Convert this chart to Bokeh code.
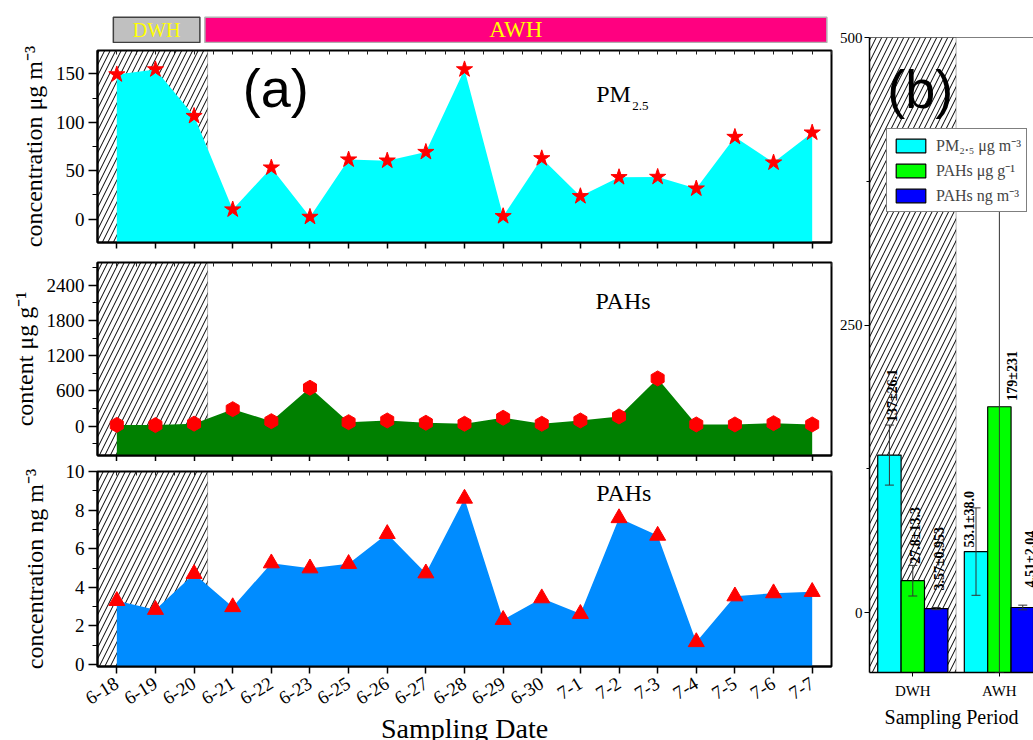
import numpy as np
from bokeh.plotting import figure
from bokeh.layouts import row, column
from bokeh.models import (Range1d, FixedTicker, BoxAnnotation, Label, LabelSet, Whisker,
                          TeeHead, ColumnDataSource, Legend, LegendItem, Span, LinearAxis)
from bokeh.core.properties import value
from bokeh.embed import file_html
from bokeh.resources import INLINE

# ---------------- data ----------------
dates = ["6-18", "6-19", "6-20", "6-21", "6-22", "6-23", "6-25", "6-26", "6-27", "6-28",
         "6-29", "6-30", "7-1", "7-2", "7-3", "7-4", "7-5", "7-6", "7-7"]
pm25 = [149.3, 154.5, 106.4, 10.0, 53.2, 2.4, 61.5, 60.4, 69.3, 154.5,
        3.1, 62.8, 23.7, 43.3, 43.6, 31.6, 84.8, 58.4, 89.3]
pahs_content = [22, 18, 43, 290, 85, 655, 68, 97, 58, 41,
                143, 41, 97, 165, 814, 29, 29, 51, 29]
pahs_conc = [3.30, 2.84, 4.70, 2.98, 5.25, 4.99, 5.22, 6.77, 4.73, 8.60,
             2.32, 3.44, 2.63, 7.59, 6.68, 1.17, 3.54, 3.70, 3.77]

periods = ["DWH", "AWH"]
pm25_mean = [137, 53.1]
pm25_sd = [26.1, 38.0]
pahs_ug_mean = [27.8, 179]
pahs_ug_sd = [13.3, 231]
pahs_ng_mean = [3.57, 4.51]
pahs_ng_sd = [0.953, 2.04]
bar_labels = [["137±26.1", "53.1±38.0"], ["27.8±13.3", "179±231"], ["3.57±0.953", "4.51±2.04"]]

SERIF = "Liberation Serif"
SANS = "Liberation Sans"
LW = 836
XR = (-0.5, len(dates) - 0.5)
DWH_EDGE = 2.35
idx = list(range(len(dates)))
half_steps = [i / 2 for i in range(-1, 2 * len(dates))]


def make_panel(h, tb, bb, yr, ticks, minor, ylabel, standoff, vals, fill, marker, msize,
               bottom=False, angle=0.0):
    p = figure(width=LW, height=h, x_range=Range1d(*XR), y_range=Range1d(*yr),
               output_backend="svg", toolbar_location=None,
               min_border_left=97, min_border_right=5, min_border_top=tb, min_border_bottom=bb)
    p.xgrid.visible = False
    p.ygrid.visible = False
    p.outline_line_color = "black"
    p.outline_line_width = 2
    p.add_layout(BoxAnnotation(left=XR[0], right=DWH_EDGE, top=yr[1], bottom=yr[0],
                               fill_alpha=0, hatch_pattern="/", hatch_color="black",
                               hatch_scale=11, hatch_weight=1, line_color="black",
                               line_width=1, level="underlay"))
    p.varea(x=idx, y1=yr[0], y2=vals, fill_color=fill)
    p.scatter(idx, vals, marker=marker, size=msize, color="red", angle=angle)

    ya = p.left[0]
    ya.ticker = FixedTicker(ticks=ticks, minor_ticks=minor)
    ya.axis_label = ylabel
    ya.axis_label_text_font = SERIF
    ya.axis_label_text_font_size = "24px"
    ya.axis_label_text_font_style = "normal"
    ya.axis_label_text_color = "black"
    ya.axis_label_standoff = standoff
    ya.major_label_text_font = SERIF
    ya.major_label_text_font_size = "19px"
    ya.major_label_text_color = "black"
    ya.major_label_standoff = 4
    ya.major_tick_out = 9
    ya.major_tick_in = 0
    ya.minor_tick_out = 5
    ya.minor_tick_in = 0
    ya.axis_line_width = 2
    ya.major_tick_line_width = 1.5

    xa = p.below[0]
    xa.axis_line_width = 2
    if bottom:
        xa.ticker = FixedTicker(ticks=idx, minor_ticks=[])
        xa.major_tick_out = 7
        xa.major_tick_in = 0
        xa.major_tick_line_width = 1.5
        xa.major_label_overrides = {i: d for i, d in enumerate(dates)}
        xa.major_label_text_font = SERIF
        xa.major_label_text_font_size = "19px"
        xa.major_label_text_color = "black"
        xa.major_label_orientation = 0.55
        xa.major_label_standoff = 8
    else:
        xa.ticker = FixedTicker(ticks=[], minor_ticks=idx)
        xa.minor_tick_out = 6
        xa.minor_tick_in = 0
        xa.minor_tick_line_width = 1.5
        xa.minor_tick_line_color = "black"

    top_ax = LinearAxis(ticker=FixedTicker(ticks=[], minor_ticks=half_steps),
                        axis_line_color=None, minor_tick_in=4, minor_tick_out=0,
                        minor_tick_line_color="#222222", minor_tick_line_width=1)
    p.add_layout(top_ax, "above")
    return p


def bare(h, yr):
    f = figure(width=LW, height=h, x_range=Range1d(*XR), y_range=Range1d(*yr),
               x_axis_type=None, y_axis_type=None, output_backend="svg",
               toolbar_location=None, min_border_left=97, min_border_right=5,
               min_border_top=0, min_border_bottom=0)
    f.xgrid.visible = False
    f.ygrid.visible = False
    f.outline_line_color = None
    return f


# ---------------- header ----------------
hd = bare(43, (0, 43))
spans = [(-0.09, 2.15), (2.28, 18.38)]
hd.quad(left=[s[0] for s in spans], right=[s[1] for s in spans], bottom=0.9, top=26.3,
        fill_color=["#c0c0c0", "#ff0080"], line_color=["#404040", "#b0b0b0"], line_width=1.5)
for (a, b), name, fs, yy in zip(spans, periods, ["20px", "23px"], [13.3, 13.8]):
    hd.add_layout(Label(x=(a + b) / 2, y=yy, text=name, text_align="center",
                        text_baseline="middle", text_color="#ffff00",
                        text_font=SERIF, text_font_size=fs))

# ---------------- panels (a) ----------------
p1 = make_panel(218, 7, 19, (-24, 174), [0, 50, 100, 150], [25, 75, 125],
                "concentration μg m⁻³", 6, pm25, "#00ffff", "star", 17)
p2 = make_panel(200, 1, 6, (-500, 2790), [0, 600, 1200, 1800, 2400],
                [-300, 300, 900, 1500, 2100, 2700],
                "content μg g⁻¹", 6, pahs_content, "#008000", "hex", 15,
                angle=np.pi / 6)
p3 = make_panel(257, 10, 52, (-0.1, 10), [0, 2, 4, 6, 8, 10], [1, 3, 5, 7, 9],
                "concentration ng m⁻³", 15, pahs_conc, "#008cff", "triangle", 16,
                bottom=True)

p1.add_layout(Label(x=3.26, y=135.3, text="(a)", text_font=SANS, text_font_size="54px",
                    text_baseline="middle", text_color="black"))
p1.add_layout(Label(x=12.41, y=129.2, text="PM", text_font=SERIF, text_font_size="24px",
                    text_baseline="middle", text_color="black"))
p1.add_layout(Label(x=12.41, y=129.2, x_offset=36, y_offset=-12, text="2.5", text_font=SERIF,
                    text_font_size="13px", text_baseline="middle", text_color="black"))
p2.add_layout(Label(x=12.39, y=2129, text="PAHs", text_font=SERIF, text_font_size="24px",
                    text_baseline="middle", text_color="black"))
p3.add_layout(Label(x=12.41, y=8.9, text="PAHs", text_font=SERIF, text_font_size="24px",
                    text_baseline="middle", text_color="black"))

ft = bare(22, (0, 22))
ft.text(x=[(XR[0] + XR[1]) / 2], y=[12], text=["Sampling Date"], text_align="center",
        text_baseline="middle", text_font=value(SERIF), text_font_size="28px",
        text_color="black")

left = column(hd, p1, p2, p3, ft, spacing=0)

# ---------------- panel (b) ----------------
YB = (-52, 500)
pb = figure(width=1033 - LW, height=740, x_range=Range1d(0.5, 2.394), y_range=Range1d(*YB),
            output_backend="svg", toolbar_location=None,
            min_border_left=33, min_border_right=0, min_border_top=37, min_border_bottom=68)
pb.xgrid.visible = False
pb.ygrid.visible = False
pb.outline_line_color = None
pb.add_layout(BoxAnnotation(left=0.5, right=1.5, top=YB[1], bottom=YB[0], fill_alpha=0,
                            hatch_pattern="/", hatch_color="black", hatch_scale=11,
                            hatch_weight=1, line_color="black", line_width=1, level="underlay"))
pb.add_layout(Span(location=YB[1], dimension="width", line_color="black", line_width=1))

xs = np.arange(1, len(periods) + 1)
offsets = [-0.27, 0.0, 0.27]
bw = 0.27
series = [(pm25_mean, pm25_sd, "#00ffff", "PM₂.₅ μg m⁻³"),
          (pahs_ug_mean, pahs_ug_sd, "#00ff00", "PAHs μg g⁻¹"),
          (pahs_ng_mean, pahs_ng_sd, "#0000ff", "PAHs ng m⁻³")]
lab_dx = [[3, -7], [3, 13], [3, 8]]
lab_dy = [[33, 4], [17, 6], [18, 20]]
items = []
for k, (m, s, c, lab) in enumerate(series):
    x = xs + offsets[k]
    m = np.array(m, dtype=float)
    s = np.array(s, dtype=float)
    r = pb.vbar(x=x, top=m, bottom=YB[0], width=bw, fill_color=c, line_color="black",
                line_width=1.2)
    items.append(LegendItem(label=lab, renderers=[r]))
    src = ColumnDataSource(dict(base=x, upper=m + s, lower=m - s))
    pb.add_layout(Whisker(source=src, base="base", upper="upper", lower="lower", level="guide",
                          line_color="#333333", line_width=1,
                          upper_head=TeeHead(size=9, line_color="#333333", line_width=1),
                          lower_head=TeeHead(size=9, line_color="#333333", line_width=1)))
    lsrc = ColumnDataSource(dict(x=x, y=m, text=bar_labels[k], dx=lab_dx[k], dy=lab_dy[k]))
    pb.add_layout(LabelSet(source=lsrc, x="x", y="y", text="text", x_offset="dx", y_offset="dy",
                           angle=np.pi / 2, text_align="left", text_baseline="middle",
                           text_font=value(SERIF), text_font_size="14px",
                           text_font_style="bold", text_color="black"))

legend = Legend(items=items, location=(17, 460), orientation="vertical",
                border_line_color="black", border_line_width=1, background_fill_alpha=1,
                label_text_font=SERIF, label_text_font_size="16px", glyph_width=37,
                glyph_height=17, padding=5, spacing=3, label_standoff=7, margin=0)
pb.add_layout(legend)
pb.add_layout(Label(x=0.704, y=454.8, text="(b)", text_font=SANS, text_font_size="54px",
                    text_baseline="middle", text_color="black"))

ya = pb.left[0]
ya.ticker = FixedTicker(ticks=[0, 250, 500], minor_ticks=[125, 375])
ya.major_label_text_font = SERIF
ya.major_label_text_font_size = "15px"
ya.major_label_text_color = "black"
ya.major_tick_out = 5
ya.major_tick_in = 0
ya.minor_tick_out = 3
ya.minor_tick_in = 0
ya.axis_line_width = 1.5
ya.major_label_standoff = 2

xa = pb.below[0]
xa.ticker = FixedTicker(ticks=list(xs), minor_ticks=[])
xa.major_label_overrides = {int(i): n for i, n in zip(xs, periods)}
xa.major_label_text_font = SERIF
xa.major_label_text_font_size = "15px"
xa.major_label_text_color = "black"
xa.major_tick_out = 4
xa.major_tick_in = 0
xa.axis_line_width = 1.5
xa.major_label_standoff = 6
xa.axis_label = "Sampling Period"
xa.axis_label_text_font = SERIF
xa.axis_label_text_font_size = "20px"
xa.axis_label_text_font_style = "normal"
xa.axis_label_text_color = "black"
xa.axis_label_standoff = 4

layout = row(left, pb, spacing=0)
open("out.html", "w").write(file_html(layout, INLINE))
